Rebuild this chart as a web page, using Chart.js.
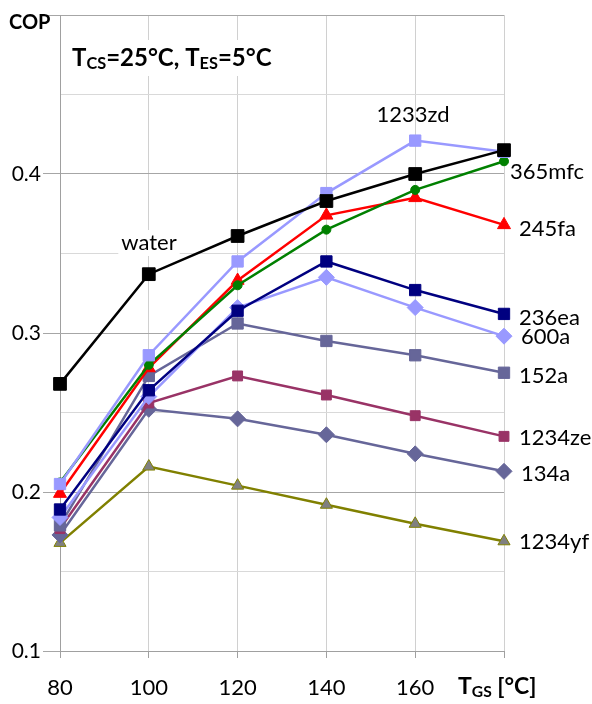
<!DOCTYPE html>
<html>
<head>
<meta charset="utf-8">
<script src="https://cdn.jsdelivr.net/npm/chart.js@4.4.0/dist/chart.umd.min.js"></script>
<style>
  html, body { margin: 0; padding: 0; background: #fff; }
  #wrap { width: 592px; height: 704px; position: relative; }
</style>
</head>
<body>
<div id="wrap"><canvas id="cop"></canvas></div>
<script>
const temps = [80, 100, 120, 140, 160, 180];
const names = ['1233zd', 'water', '365mfc', '245fa', '236ea', '600a', '152a', '1234ze', '134a', '1234yf'];
const water  = [0.268, 0.337, 0.361, 0.383, 0.400, 0.415];
const r1233zd = [0.205, 0.286, 0.345, 0.388, 0.421, 0.414];
const r365mfc = [0.206, 0.280, 0.330, 0.365, 0.390, 0.408];
const r245fa = [0.199, 0.278, 0.333, 0.374, 0.385, 0.368];
const r236ea = [0.189, 0.264, 0.314, 0.345, 0.327, 0.312];
const r600a  = [0.184, 0.260, 0.316, 0.335, 0.316, 0.298];
const r152a  = [0.179, 0.273, 0.306, 0.295, 0.286, 0.275];
const r1234ze = [0.177, 0.256, 0.273, 0.261, 0.248, 0.235];
const r134a  = [0.173, 0.252, 0.246, 0.236, 0.224, 0.213];
const r1234yf = [0.168, 0.216, 0.204, 0.192, 0.180, 0.169];

const FONT = 'Lato, "Open Sans", sans-serif';

function series(label, vals, color, style, radius, fill) {
  return {
    label: label,
    data: temps.map((t, i) => ({ x: t, y: vals[i] })),
    borderColor: color,
    backgroundColor: fill || color,
    pointBackgroundColor: fill || color,
    pointBorderColor: color,
    pointBorderWidth: 1,
    pointStyle: style,
    pointRadius: radius,
    borderWidth: 2.5,
    tension: 0,
    clip: false
  };
}

// index 0 is drawn on top
const datasets = [
  series('water', water, '#000000', 'rect', 9),
  series('1233zd', r1233zd, '#9999ff', 'rect', 8),
  series('365mfc', r365mfc, '#008000', 'circle', 4.5),
  series('245fa', r245fa, '#ff0000', 'triangle', 7.5),
  series('236ea', r236ea, '#000080', 'rect', 8),
  series('600a', r600a, '#9999ff', 'rectRot', 8),
  series('152a', r152a, '#666699', 'rect', 8),
  series('1234ze', r1234ze, '#993366', 'rect', 7),
  series('134a', r134a, '#666699', 'rectRot', 8),
  series('1234yf', r1234yf, '#808000', 'triangle', 7, '#808080')
];

// [text, x, y, align]
const seriesLabels = [
  ['water', 149, 243, 'center'], ['1233zd', 413, 115, 'center'],
  ['365mfc', 510, 172, 'left'], ['245fa', 519, 229, 'left'],
  ['236ea', 519, 318, 'left'], ['600a', 521, 337, 'left'],
  ['152a', 519, 376, 'left'], ['1234ze', 519, 438, 'left'],
  ['134a', 521, 474, 'left'], ['1234yf', 519, 542, 'left']
];

function isMajor(v) { return Math.round(v * 100) % 10 === 0; }

function richText(ctx, parts, x, y, size) {
  let cx = x;
  parts.forEach(p => {
    const s = p[1] ? size * 0.68 : size;
    ctx.font = 'bold ' + s + 'px ' + FONT;
    ctx.fillText(p[0], cx, y + (p[1] ? size * 0.22 : 0));
    cx += ctx.measureText(p[0]).width;
  });
}

const textPlugin = {
  id: 'texts',
  afterDraw(chart) {
    const ctx = chart.ctx;
    ctx.save();
    ctx.fillStyle = '#000';
    ctx.textBaseline = 'middle';
    ctx.font = '22px ' + FONT;
    seriesLabels.forEach(l => {
      ctx.textAlign = l[3];
      const w = ctx.measureText(l[0]).width;
      if (l[0] === 'water') {
        ctx.fillStyle = '#fff';
        ctx.fillRect(l[1] - w / 2 - 3, l[2] - 13, w + 6, 26);
      }
      ctx.fillStyle = '#000';
      ctx.fillText(l[0], l[1], l[2]);
    });
    ctx.textAlign = 'left';
    ctx.font = 'bold 20px ' + FONT;
    ctx.fillText('COP', 9, 23);
    ctx.fillStyle = '#fff';
    ctx.fillRect(68, 40, 214, 36);
    ctx.fillStyle = '#000';
    richText(ctx, [['T'], ['CS', 1], ['=25°C, T'], ['ES', 1], ['=5°C']], 72, 58, 24);
    richText(ctx, [['T'], ['GS', 1], [' [°C]']], 458, 687, 23);
    ctx.restore();
  }
};

new Chart(document.getElementById('cop'), {
  type: 'line',
  data: { datasets: datasets },
  options: {
    responsive: true,
    maintainAspectRatio: false,
    animation: false,
    layout: { padding: { top: 15, right: 88, left: 0, bottom: 0 } },
    plugins: { legend: { display: false }, tooltip: { enabled: false } },
    scales: {
      x: {
        type: 'linear',
        min: 80,
        max: 180,
        afterFit(scale) { scale.height = 53; },
        border: { color: '#a0a0a0', width: 1 },
        grid: { color: '#d0d0d0', lineWidth: 1, tickLength: 7, tickColor: '#a0a0a0' },
        ticks: {
          stepSize: 20,
          padding: 17,
          color: '#000',
          font: { family: FONT, size: 22 },
          callback: v => (v === 180 ? '' : v)
        }
      },
      y: {
        min: 0.1,
        max: 0.5,
        afterFit(scale) { scale.width = 60; },
        border: { color: '#a0a0a0', width: 1 },
        grid: {
          color: c => (isMajor(c.tick.value) ? '#a6a6a6' : '#d9d9d9'),
          tickColor: c => (isMajor(c.tick.value) ? '#a6a6a6' : 'rgba(0,0,0,0)'),
          tickLength: 17,
          lineWidth: 1
        },
        ticks: {
          stepSize: 0.05,
          padding: 2,
          color: '#000',
          font: { family: FONT, size: 21 },
          callback: v => {
            const r = Math.round(v * 100);
            return (r % 10 === 0 && r < 50) ? (r / 100).toFixed(1) : '';
          }
        }
      }
    }
  },
  plugins: [textPlugin]
});
</script>
</body>
</html>
